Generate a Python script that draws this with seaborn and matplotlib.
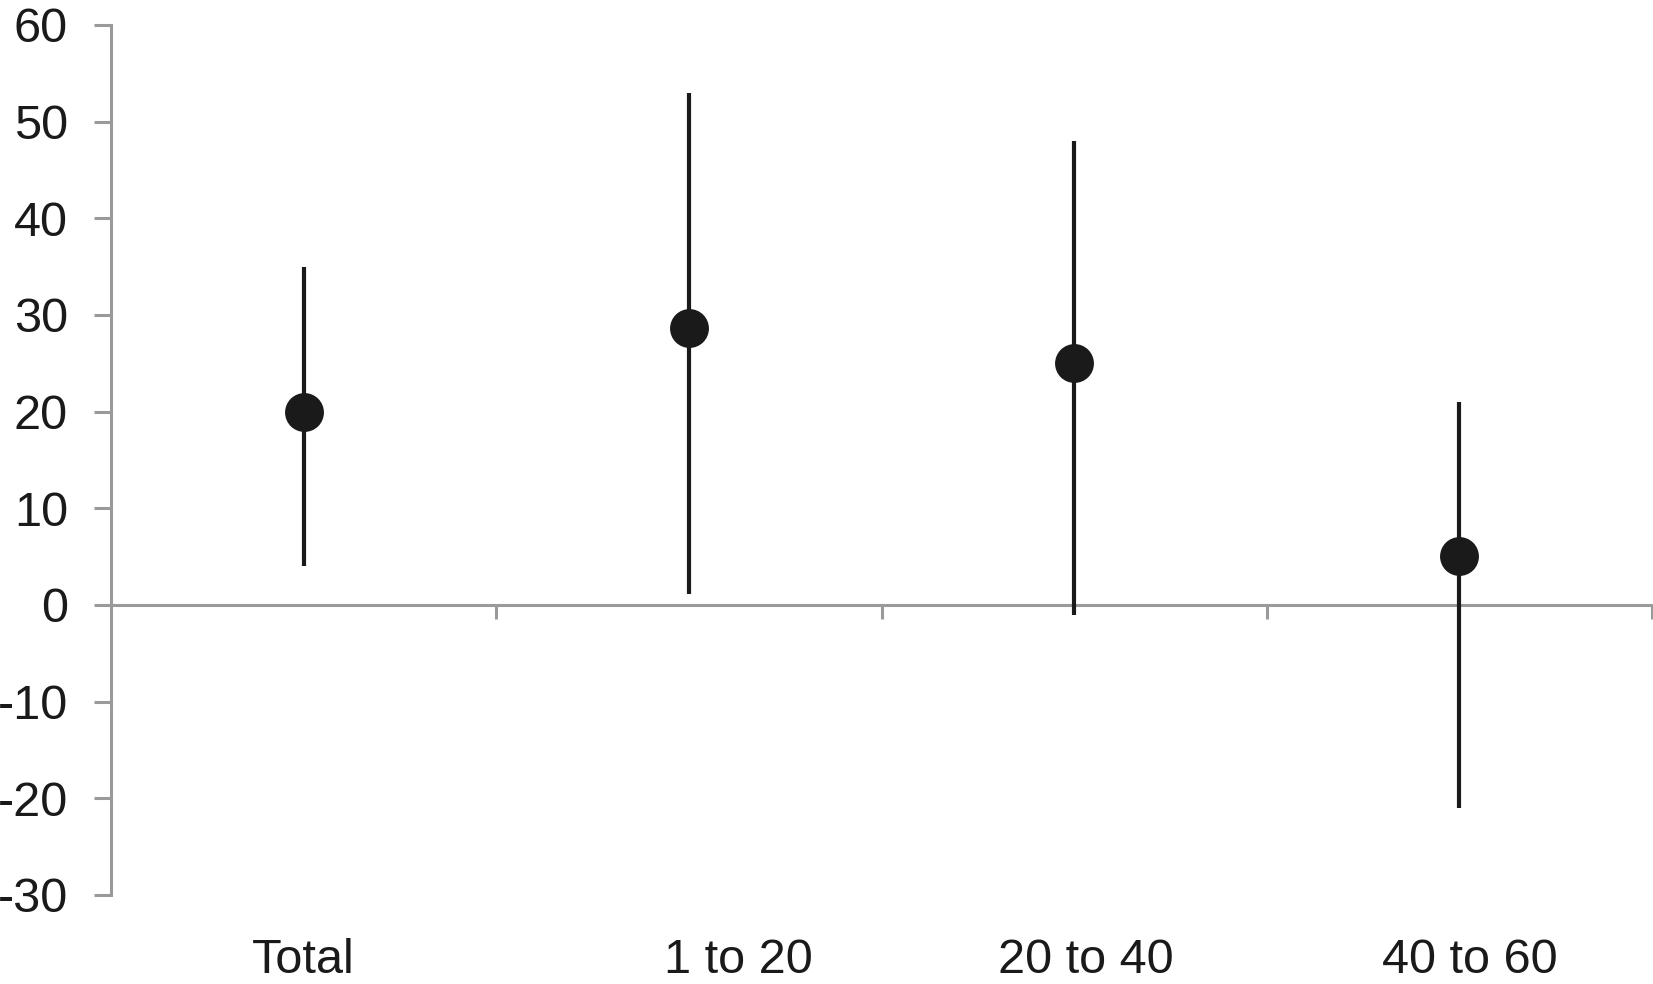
import numpy as np
import pandas as pd
import matplotlib
matplotlib.use("Agg")
import matplotlib.pyplot as plt
import matplotlib.transforms as mtransforms
import seaborn as sns

# ---- data ----
categories = ["Total", "1 to 20", "20 to 40", "40 to 60"]
estimates = [20.0, 28.7, 25.0, 5.1]
lower = [4.0, 1.1, -1.0, -21.0]
upper = [35.0, 53.0, 48.0, 21.0]
yticks = [-30, -20, -10, 0, 10, 20, 30, 40, 50, 60]

# horizontal nudges of category labels (pixels), as in the original layout
label_shift_px = [0, 50, 12, 10]

sns.set_theme(style="white")
plt.rcParams["font.family"] = ["Liberation Sans", "DejaVu Sans"]

df = pd.DataFrame({"group": categories, "est": estimates, "lo": lower, "hi": upper})

DPI = 100
fig = plt.figure(figsize=(16.53, 9.84), dpi=DPI)
ax = fig.add_axes([111 / 1653, 1 - 895 / 984, (1652 - 111) / 1653, (895 - 25) / 984])

grey = "#9a9a9a"
ink = "#1a1a1a"

pos = np.arange(len(categories))
ax.vlines(pos, df["lo"], df["hi"], color=ink, linewidth=3.0, zorder=3)
sns.scatterplot(data=df, x="group", y="est", ax=ax, color=ink, s=28 ** 2,
                edgecolor=ink, linewidth=0, zorder=4, legend=False)

ax.set_xlim(-0.5, len(categories) - 0.5)
ax.set_ylim(min(yticks), max(yticks))
ax.set_yticks(yticks)
ax.set_yticklabels([str(t) for t in yticks])
ax.set_xticks(pos)
ax.set_xticklabels(categories)
ax.set_xticks(pos + 0.5, minor=True)

for s in ["top", "right"]:
    ax.spines[s].set_visible(False)
ax.spines["left"].set_color(grey)
ax.spines["left"].set_linewidth(2.2)
ax.spines["bottom"].set_color(grey)
ax.spines["bottom"].set_linewidth(2.2)
ax.spines["bottom"].set_position(("data", 0))

ax.tick_params(axis="y", which="major", direction="out", length=12, width=2.2,
               color=grey, labelsize=35, labelcolor=ink, pad=19, left=True)
ax.tick_params(axis="x", which="major", length=0, labelsize=35, labelcolor=ink, pad=240,
               bottom=True)
ax.tick_params(axis="x", which="minor", direction="out", length=10, width=2.2,
               color=grey, bottom=True)

for lab, dx in zip(ax.get_xticklabels(), label_shift_px):
    lab.set_transform(lab.get_transform() +
                      mtransforms.ScaledTranslation(dx / DPI, 0, fig.dpi_scale_trans))

ax.set_xlabel("")
ax.set_ylabel("")
ax.grid(False)

fig.savefig("out.png", dpi=DPI, facecolor="white")
